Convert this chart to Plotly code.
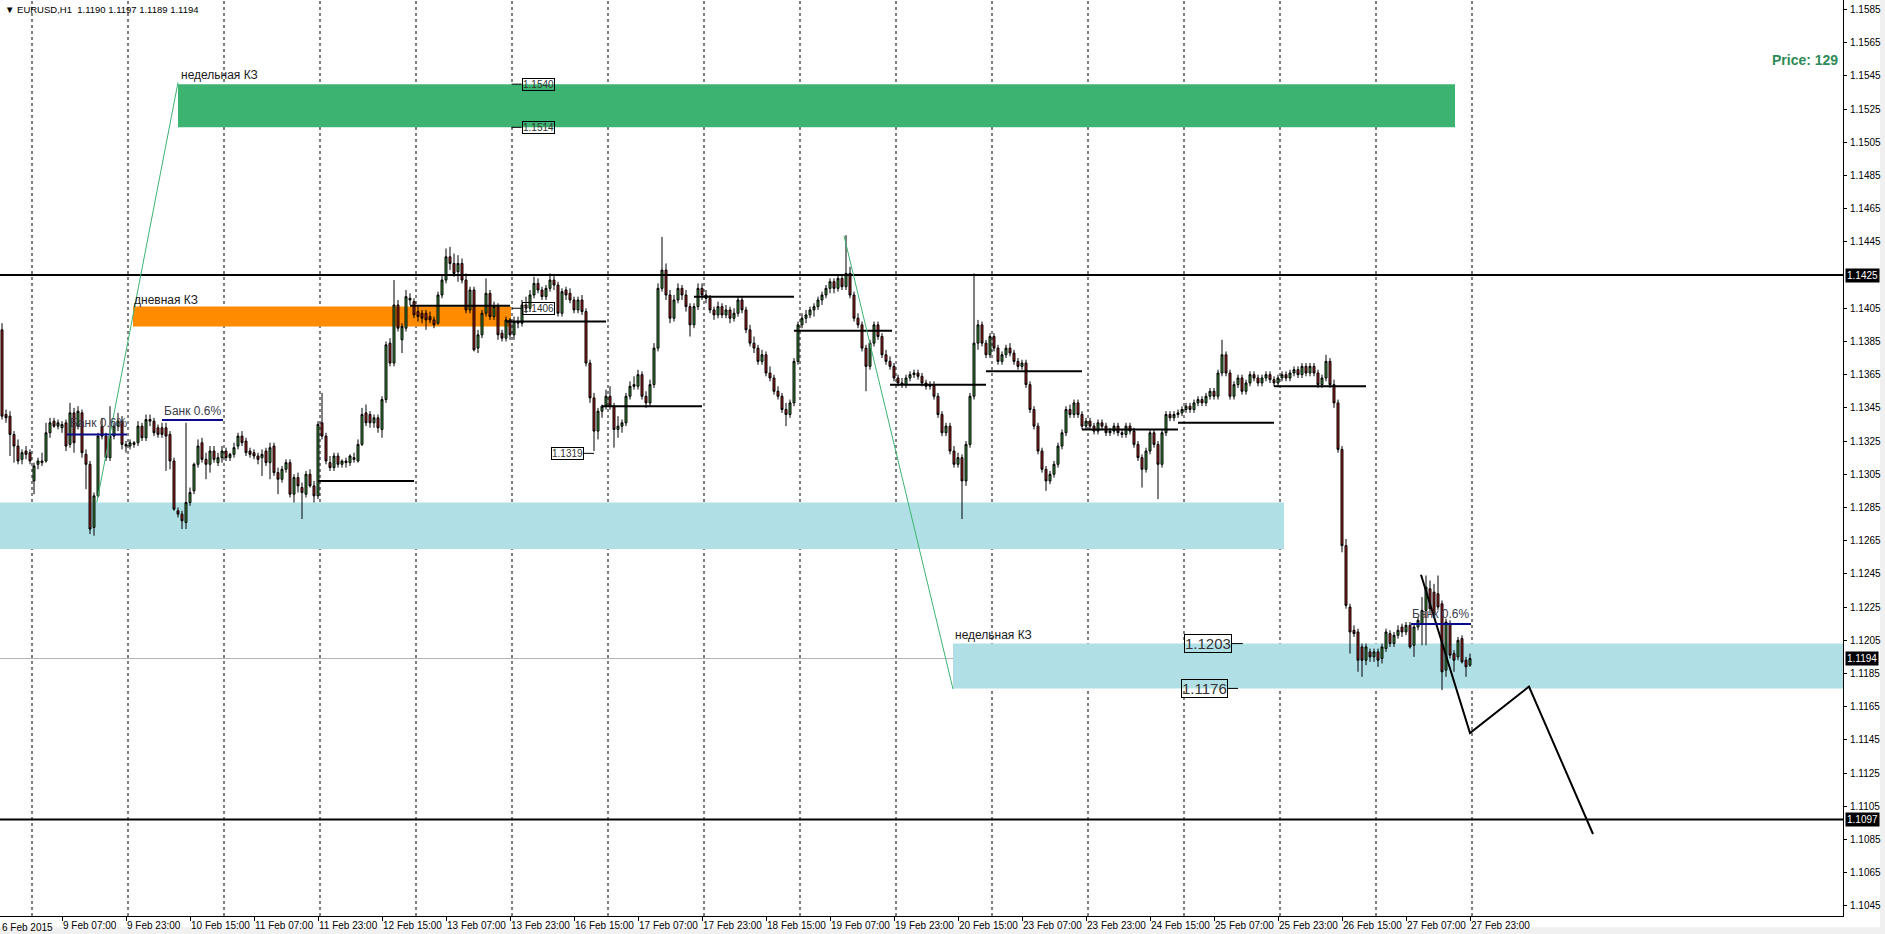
import plotly.graph_objects as go

# ---------------- candle data: (open, high, low, close) in pips above 1.1000 ----------------
feb06 = [(392, 396, 338, 340), (341, 344, 336, 339), (340, 343, 316, 329), (329, 331, 312, 322),
         (322, 326, 311, 313), (314, 320, 311, 318), (319, 322, 314, 317), (318, 320, 311, 313)]
feb09 = [(301, 312, 293, 310), (311, 315, 308, 313), (313, 318, 310, 312), (313, 336, 312, 330),
         (330, 339, 327, 336), (337, 339, 333, 334), (334, 338, 332, 336), (333, 337, 330, 335),
         (336, 338, 319, 322), (323, 348, 321, 342), (342, 345, 318, 324), (334, 346, 332, 343),
         (342, 344, 315, 318), (317, 320, 296, 311), (311, 313, 269, 272), (273, 294, 268, 292),
         (292, 330, 291, 328), (334, 339, 326, 328), (328, 330, 313, 315), (315, 346, 313, 328),
         (328, 336, 326, 334), (334, 342, 331, 337), (337, 340, 320, 323), (323, 325, 318, 322)]
feb10 = [(322, 326, 320, 324), (323, 325, 321, 324), (324, 337, 322, 334), (334, 336, 325, 327),
         (327, 341, 325, 338), (338, 341, 334, 337), (337, 339, 328, 330), (333, 335, 327, 329),
         (333, 336, 327, 329), (333, 336, 307, 328), (329, 331, 308, 313), (313, 315, 283, 284),
         (283, 285, 279, 281), (281, 283, 272, 277), (276, 336, 272, 288), (288, 297, 286, 294),
         (295, 312, 293, 311), (311, 326, 309, 322), (324, 327, 312, 314), (314, 318, 302, 311),
         (311, 322, 306, 319), (319, 322, 312, 314), (312, 318, 310, 315), (315, 322, 312, 319)]
feb11 = [(319, 321, 313, 315), (315, 318, 313, 317), (317, 324, 315, 321), (322, 330, 320, 328),
         (328, 331, 322, 324), (325, 327, 316, 318), (319, 321, 315, 317), (318, 320, 314, 316),
         (316, 318, 311, 314), (315, 320, 304, 317), (319, 321, 310, 312), (312, 324, 302, 321),
         (322, 324, 304, 306), (306, 309, 293, 302), (302, 310, 300, 308), (308, 314, 306, 312),
         (312, 314, 291, 293), (293, 305, 288, 303), (303, 306, 294, 298), (297, 300, 278, 294),
         (293, 307, 291, 305), (305, 308, 297, 298), (298, 301, 288, 292), (292, 337, 290, 335)]
feb12 = [(336, 354, 326, 328), (328, 330, 311, 313), (312, 316, 307, 309), (309, 318, 307, 316),
         (316, 318, 309, 311), (311, 314, 309, 313), (313, 315, 309, 312), (312, 317, 310, 316),
         (315, 318, 312, 314), (313, 326, 312, 323), (323, 345, 322, 341), (342, 347, 334, 336),
         (341, 343, 333, 336), (336, 341, 333, 339), (339, 341, 330, 333), (332, 352, 327, 350),
         (350, 385, 348, 383), (384, 387, 370, 372), (372, 422, 370, 407), (407, 410, 391, 393),
         (386, 396, 378, 394), (393, 416, 391, 412), (411, 414, 407, 410), (409, 411, 399, 401)]
feb13 = [(403, 406, 397, 400), (402, 404, 396, 399), (402, 404, 392, 398), (400, 403, 396, 398),
         (398, 400, 393, 395), (396, 415, 395, 413), (413, 425, 411, 422), (422, 441, 420, 436),
         (436, 442, 428, 432), (432, 438, 424, 426), (427, 437, 421, 432), (432, 435, 420, 422),
         (422, 426, 402, 404), (404, 418, 402, 416), (416, 418, 379, 380), (381, 392, 378, 389),
         (389, 404, 387, 402), (402, 423, 400, 414), (414, 416, 398, 400), (400, 409, 398, 406),
         (406, 408, 386, 389), (390, 392, 385, 387), (387, 400, 385, 398), (398, 399, 386, 389)]
feb16 = [(389, 400, 386, 397), (397, 400, 393, 396), (396, 410, 394, 407), (407, 412, 402, 405),
         (405, 416, 403, 413), (413, 424, 411, 420), (420, 423, 414, 416), (416, 418, 410, 412),
         (412, 419, 410, 417), (417, 426, 415, 422), (422, 425, 416, 419), (419, 421, 400, 402),
         (402, 417, 400, 415), (416, 418, 410, 413), (414, 417, 408, 410), (410, 412, 402, 404),
         (404, 412, 402, 410), (410, 413, 401, 403), (403, 405, 370, 372), (372, 374, 348, 351),
         (351, 354, 319, 331), (331, 345, 326, 343), (343, 347, 339, 346), (346, 356, 344, 352)]
feb17 = [(352, 358, 344, 346), (346, 348, 321, 332), (332, 340, 327, 334), (334, 338, 330, 336),
         (336, 354, 334, 352), (352, 361, 350, 358), (359, 364, 356, 358), (358, 368, 356, 365),
         (365, 367, 350, 352), (352, 355, 345, 348), (348, 362, 346, 359), (359, 384, 357, 381),
         (381, 420, 379, 417), (417, 448, 415, 428), (428, 432, 410, 413), (413, 416, 396, 399),
         (399, 413, 397, 410), (410, 420, 408, 417), (417, 419, 410, 413), (413, 416, 403, 406),
         (406, 408, 388, 395), (395, 408, 393, 406), (406, 420, 404, 417), (417, 420, 410, 413)]
feb18 = [(413, 416, 408, 411), (411, 413, 402, 404), (404, 406, 398, 401), (401, 409, 399, 406),
         (406, 408, 399, 401), (401, 407, 399, 404), (404, 406, 396, 399), (399, 405, 397, 402),
         (402, 412, 400, 410), (410, 412, 402, 404), (404, 406, 390, 392), (392, 395, 382, 384),
         (384, 388, 378, 381), (381, 383, 371, 373), (373, 380, 371, 377), (377, 379, 364, 366),
         (366, 370, 361, 363), (363, 365, 353, 355), (355, 358, 350, 352), (352, 354, 342, 344),
         (344, 348, 334, 341), (341, 350, 339, 348), (348, 375, 346, 373), (373, 397, 371, 395)]
feb19 = [(395, 402, 393, 399), (399, 404, 396, 401), (401, 406, 399, 404), (404, 408, 400, 406),
         (406, 412, 404, 410), (410, 415, 407, 413), (413, 419, 411, 417), (417, 423, 414, 421),
         (421, 423, 414, 417), (417, 425, 415, 423), (423, 425, 416, 418), (418, 449, 416, 426),
         (426, 430, 411, 413), (413, 415, 397, 399), (399, 402, 393, 395), (395, 397, 379, 381),
         (381, 383, 355, 370), (370, 386, 368, 384), (384, 397, 382, 395), (395, 397, 386, 388),
         (388, 390, 375, 377), (377, 380, 371, 373), (373, 376, 368, 370), (370, 372, 361, 363)]
feb20 = [(363, 365, 358, 360), (360, 363, 357, 359), (359, 365, 357, 363), (363, 367, 361, 365),
         (365, 368, 363, 366), (366, 368, 362, 364), (364, 366, 358, 360), (360, 362, 356, 358),
         (358, 361, 356, 359), (359, 361, 350, 352), (352, 354, 339, 341), (341, 343, 328, 330),
         (330, 336, 328, 334), (334, 336, 317, 319), (319, 322, 309, 311), (311, 318, 309, 315),
         (315, 317, 278, 301), (301, 325, 298, 323), (323, 354, 321, 352), (352, 426, 350, 384),
         (384, 398, 380, 395), (395, 397, 382, 384), (384, 386, 375, 377), (377, 390, 375, 388)]
feb23 = [(388, 390, 379, 381), (381, 383, 371, 373), (373, 379, 371, 377), (377, 383, 375, 381),
         (381, 384, 376, 378), (378, 380, 371, 373), (373, 375, 368, 370), (370, 374, 368, 372),
         (372, 374, 357, 359), (359, 361, 342, 344), (344, 346, 332, 334), (334, 336, 317, 319),
         (319, 321, 306, 308), (308, 310, 295, 301), (301, 307, 299, 305), (305, 313, 303, 311),
         (311, 324, 309, 322), (322, 332, 320, 330), (330, 346, 328, 344), (344, 347, 339, 341),
         (341, 350, 339, 348), (348, 350, 339, 341), (341, 343, 332, 334), (334, 339, 332, 337)]
feb24 = [(337, 339, 332, 334), (334, 336, 329, 331), (331, 338, 329, 336), (336, 338, 332, 334),
         (334, 336, 328, 330), (330, 333, 328, 331), (331, 336, 329, 334), (334, 336, 328, 330),
         (330, 332, 327, 329), (329, 336, 327, 334), (334, 336, 329, 331), (331, 333, 321, 323),
         (323, 325, 313, 315), (315, 317, 297, 308), (308, 321, 306, 319), (319, 332, 317, 330),
         (330, 332, 321, 323), (323, 325, 290, 311), (311, 332, 309, 330), (330, 343, 328, 341),
         (341, 343, 337, 339), (339, 343, 337, 341), (341, 344, 339, 342), (342, 346, 340, 344)]
feb25 = [(344, 348, 342, 346), (346, 348, 342, 344), (344, 350, 342, 348), (348, 352, 346, 350),
         (350, 352, 346, 348), (348, 354, 346, 352), (352, 357, 350, 355), (355, 357, 350, 352),
         (352, 368, 350, 366), (366, 386, 364, 377), (377, 379, 364, 366), (366, 368, 350, 352),
         (352, 361, 350, 359), (359, 365, 357, 363), (363, 365, 353, 355), (355, 362, 353, 360),
         (360, 367, 358, 365), (365, 367, 361, 363), (363, 365, 358, 360), (360, 365, 358, 363),
         (363, 367, 361, 365), (365, 367, 360, 362), (362, 364, 358, 360), (360, 365, 358, 363)]
feb26 = [(363, 367, 361, 365), (365, 367, 361, 363), (363, 368, 361, 366), (366, 370, 364, 368),
         (368, 370, 363, 365), (365, 372, 363, 370), (370, 372, 364, 366), (366, 372, 364, 370),
         (370, 372, 364, 366), (366, 368, 357, 359), (359, 365, 357, 363), (363, 377, 361, 373),
         (373, 375, 357, 359), (359, 362, 345, 348), (348, 350, 318, 320), (320, 322, 258, 262),
         (262, 266, 224, 226), (225, 227, 197, 210), (211, 214, 207, 209), (210, 212, 186, 193),
         (201, 203, 183, 193), (193, 203, 190, 201), (198, 200, 192, 195), (195, 200, 192, 198)]
feb27 = [(198, 200, 189, 193), (194, 203, 191, 201), (200, 212, 198, 210), (209, 211, 201, 203),
         (203, 210, 201, 208), (208, 214, 206, 211), (213, 215, 207, 210), (210, 216, 208, 214),
         (214, 216, 200, 201), (202, 215, 195, 213), (213, 219, 211, 217), (215, 231, 202, 223),
         (223, 244, 202, 237), (236, 241, 221, 224), (234, 239, 219, 221), (233, 244, 223, 225),
         (227, 229, 175, 186), (187, 218, 183, 216), (215, 217, 194, 196), (197, 199, 186, 193),
         (195, 207, 193, 205), (206, 208, 191, 192), (193, 195, 183, 189), (190, 197, 189, 194)]

trading_days = [feb06, feb09, feb10, feb11, feb12, feb13, feb16, feb17, feb18, feb19,
                feb20, feb23, feb24, feb25, feb26, feb27]
BASE = 1.1000
PIP = 0.0001

# ---------------- axis labels ----------------
xtick_bars = [15, 31, 47, 63, 79, 95, 111, 127, 143, 159, 175, 191, 207, 223, 239, 255,
              271, 287, 303, 319, 335, 351, 367]
xtick_text = ["9 Feb 07:00", "9 Feb 23:00", "10 Feb 15:00", "11 Feb 07:00", "11 Feb 23:00",
              "12 Feb 15:00", "13 Feb 07:00", "13 Feb 23:00", "16 Feb 15:00", "17 Feb 07:00",
              "17 Feb 23:00", "18 Feb 15:00", "19 Feb 07:00", "19 Feb 23:00", "20 Feb 15:00",
              "23 Feb 07:00", "23 Feb 23:00", "24 Feb 15:00", "25 Feb 07:00", "25 Feb 23:00",
              "26 Feb 15:00", "27 Feb 07:00", "27 Feb 23:00"]
first_label = "6 Feb 2015"
grid_bars = [7, 31, 55, 79, 103, 127, 151, 175, 199, 223, 247, 271, 295, 319, 343, 367]
ytick_text = ["1.1045", "1.1065", "1.1085", "1.1105", "1.1125", "1.1145", "1.1165", "1.1185",
              "1.1205", "1.1225", "1.1245", "1.1265", "1.1285", "1.1305", "1.1325", "1.1345",
              "1.1365", "1.1385", "1.1405", "1.1445", "1.1465", "1.1485", "1.1505",
              "1.1525", "1.1545", "1.1565", "1.1585"]
highlight_prices = [1.1425, 1.1194, 1.1097]

# ---------------- drawn objects ----------------
zone_green = (44, 363.25, 1.1514, 1.1540)
zone_orange = (32.75, 127.25, 1.1394, 1.1406)
zone_cyan_left = (-0.5, 320.5, 1.1260, 1.1288)
zone_cyan_right = (237.75, 470, 1.1176, 1.1203)
level_balance = 1.1425
level_min2015 = 1.1097
level_last = 1.1194
day_levels = [(79, 103, 1.1301), (102, 127, 1.14065), (126, 151, 1.1397), (150, 175, 1.1346),
              (173, 198, 1.1412), (198, 222.5, 1.13915), (222, 246, 1.1359), (246, 270, 1.1367),
              (270, 294, 1.1332), (294, 318, 1.1336), (318, 341, 1.1358)]
bank_lines = [(16.25, 31.25, 1.1329), (40, 55.25, 1.13377), (352.25, 367.25, 1.12148)]
trend_lines = [((23.7, 1.1288), (44, 1.1541)), ((210.5, 1.14487), (237.75, 1.11756))]
zig_x = [354.75, 367, 381.75, 397.75]
zig_y = [1.12445, 1.11491, 1.11771, 1.10883]
tags_right = [(127.4, 129.9, 1.1540, "1.1540", 10), (127.4, 129.9, 1.1514, "1.1514", 10),
              (127.5, 129.9, 1.1405, "1.1406", 10)]
tags_left = [(148, 145.5, 1.13176, "1.1319", 10), (310.2, 307.5, 1.1203, "1.1203", 15),
             (309, 306.5, 1.1176, "1.1176", 15)]

# ---------------- build ----------------
candles = [c for day in trading_days for c in day]
bars = list(range(len(candles)))
opens = [BASE + c[0] * PIP for c in candles]
highs = [BASE + c[1] * PIP for c in candles]
lows = [BASE + c[2] * PIP for c in candles]
closes = [BASE + c[3] * PIP for c in candles]

FONT = "Liberation Sans"
fig = go.Figure()
fig.add_trace(go.Candlestick(
    x=bars, open=opens, high=highs, low=lows, close=closes,
    increasing=dict(line=dict(color="black", width=1), fillcolor="#3a9b3a"),
    decreasing=dict(line=dict(color="black", width=1), fillcolor="#b21c1c"),
    whiskerwidth=0, showlegend=False, hoverinfo="skip"))

shapes = []
for (x0, x1, y0, y1), col in [(zone_green, "#3cb371"), (zone_orange, "#ff8c00"),
                              (zone_cyan_left, "#b0e0e6"), (zone_cyan_right, "#b0e0e6")]:
    shapes.append(dict(type="rect", xref="x", yref="y", x0=x0, x1=x1, y0=y0, y1=y1,
                       fillcolor=col, line=dict(width=0), layer="below"))
for g in grid_bars:
    shapes.append(dict(type="line", xref="x", yref="paper", x0=g + 0.5, x1=g + 0.5, y0=0, y1=1,
                       line=dict(color="black", width=1, dash="3px,3px"), layer="below"))
shapes.append(dict(type="line", xref="paper", yref="y", x0=0, x1=1, y0=level_last, y1=level_last,
                   line=dict(color="#b4b4b4", width=1), layer="below"))
for lv in (level_balance, level_min2015):
    shapes.append(dict(type="line", xref="paper", yref="y", x0=0, x1=1, y0=lv, y1=lv,
                       line=dict(color="black", width=2), layer="above"))
for x0, x1, p in day_levels:
    shapes.append(dict(type="line", xref="x", yref="y", x0=x0, x1=x1, y0=p, y1=p,
                       line=dict(color="black", width=2), layer="above"))
for x0, x1, p in bank_lines:
    shapes.append(dict(type="line", xref="x", yref="y", x0=x0, x1=x1, y0=p, y1=p,
                       line=dict(color="#0a0a8c", width=2), layer="above"))
for (ax, ay), (bx, by) in trend_lines:
    shapes.append(dict(type="line", xref="x", yref="y", x0=ax, x1=bx, y0=ay, y1=by,
                       line=dict(color="#3cb371", width=1), layer="above"))
for a, b, p, t, s in tags_right + tags_left:
    shapes.append(dict(type="line", xref="x", yref="y", x0=a, x1=b, y0=p, y1=p,
                       line=dict(color="black", width=1), layer="above"))
shapes.append(dict(type="rect", xref="paper", yref="paper", x0=1.0201, x1=1.03, y0=-0.03, y1=1.01,
                   fillcolor="#f0f0f0", line=dict(width=0), layer="below"))
shapes.append(dict(type="rect", xref="paper", yref="paper", x0=-0.01, x1=1.03, y0=-0.03, y1=-0.0122,
                   fillcolor="#f0f0f0", line=dict(width=0), layer="below"))

fig.add_trace(go.Scatter(x=zig_x, y=zig_y, mode="lines", line=dict(color="black", width=2),
                         showlegend=False, hoverinfo="skip", cliponaxis=False))

ann = []
def txt(x, y, t, size=12, color="#1a1a1a", xanchor="left", **kw):
    ann.append(dict(x=x, y=y, xref=kw.pop("xref", "x"), yref=kw.pop("yref", "y"), text=t,
                    showarrow=False, xanchor=xanchor, yanchor=kw.pop("yanchor", "middle"),
                    font=dict(family=FONT, size=size, color=color), **kw))

txt(44.25, 1.15455, "недельная КЗ")
txt(32.5, 1.14099, "дневная КЗ")
txt(-0.6, 1.12937, "недельная КЗ")
txt(237.75, 1.12081, "недельная КЗ")
txt(-0.6, 1.1428, "баланс февраля", size=9.5)
txt(-0.6, 1.10997, "минимум 2015 года", size=9.5)
txt(16.5, 1.13358, "Банк 0.6%", color="#3c3c4a")
txt(40, 1.13431, "Банк 0.6%", color="#3c3c4a")
txt(352, 1.12208, "Банк 0.6%", color="#3c3c4a")
for a, b, p, t, s in tags_right:
    txt(b, p, t, size=s, color="#333333", bordercolor="black", borderwidth=1, borderpad=0)
for a, b, p, t, s in tags_left:
    txt(b, p, t, size=s, color="#333333", xanchor="right", bordercolor="black", borderwidth=1,
        borderpad=0)
txt(0, 1, "▼ EURUSD,H1  1.1190 1.1197 1.1189 1.1194", size=9.5, color="black",
    xref="paper", yref="paper", yanchor="top", xshift=3, yshift=-2)
txt(1, 0.9345, "<b>Price: 129</b>", size=14, color="#2e8b57", xanchor="right",
    xref="paper", yref="paper", xshift=-3)
for hp in highlight_prices:
    txt(1, hp, "%.4f" % hp, size=10, color="white", xref="paper", bgcolor="black",
        borderpad=1, xshift=2)
txt(0, 0, first_label, size=10, color="black", xref="paper", yref="paper", yanchor="top",
    xshift=0, yshift=-4)

fig.update_layout(
    width=1885, height=934,
    margin=dict(l=0, r=42, t=0, b=18, autoexpand=False),
    paper_bgcolor="white", plot_bgcolor="white",
    font=dict(family=FONT, size=10, color="black"),
    shapes=shapes, annotations=ann, showlegend=False,
    xaxis=dict(range=[-0.5, 460.25], rangeslider=dict(visible=False), showgrid=False,
               zeroline=False, showline=True, linecolor="black", linewidth=1, mirror=True,
               tickmode="array", tickvals=xtick_bars, ticktext=xtick_text, tickangle=0,
               ticks="outside", ticklen=4, tickcolor="black", automargin=False,
               ticklabelposition="outside right", tickfont=dict(size=10)),
    yaxis=dict(range=[1.10389, 1.15907], side="right", showgrid=False, zeroline=False,
               showline=True, linecolor="black", linewidth=1, automargin=False,
               tickmode="array", tickvals=[float(t) for t in ytick_text], ticktext=ytick_text,
               ticks="outside", ticklen=3, tickcolor="black", tickfont=dict(size=10),
               ticklabelstandoff=1),
)
fig.write_html("out.html", config={"displayModeBar": False},
               post_script="document.body.style.margin='0';document.body.style.overflow='hidden';")
